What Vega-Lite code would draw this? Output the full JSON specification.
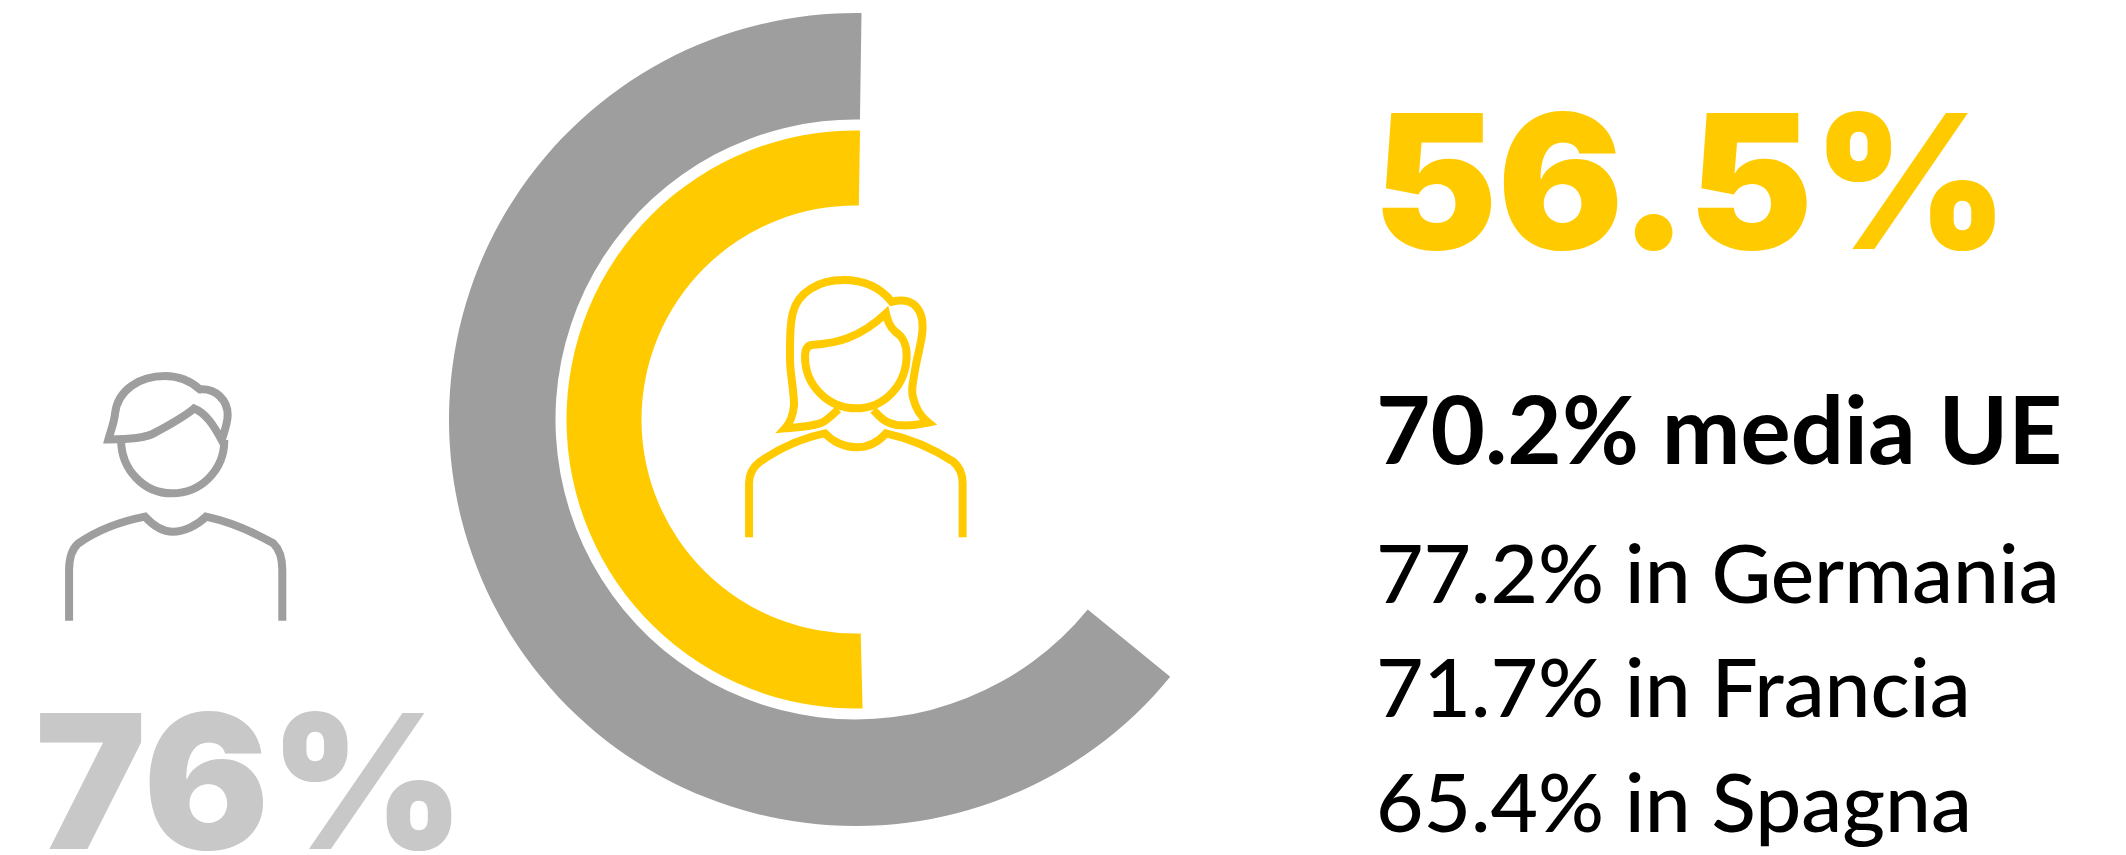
{
  "$schema": "https://vega.github.io/schema/vega-lite/v6.json",
  "width": 2126,
  "height": 855,
  "padding": 0,
  "autosize": {"type": "none"},
  "background": "white",
  "view": {"stroke": null},
  "resolve": {"scale": {"theta": "independent"}},
  "layer": [
    {
      "data": {"values": [{"gruppo": "Uomini", "quota": 76, "inizio": 0}]},
      "mark": {"type": "arc", "radius": 406.5, "radius2": 300, "fill": "#9e9e9e"},
      "encoding": {
        "x": {"datum": 855.5, "type": "quantitative", "scale": {"domain": [0, 2126], "nice": false, "zero": false}, "axis": null},
        "y": {"datum": 419.5, "type": "quantitative", "scale": {"domain": [0, 855], "reverse": true, "nice": false, "zero": false}, "axis": null},
        "theta": {"field": "inizio", "type": "quantitative", "stack": null, "scale": {"domain": [0, 76], "range": [0.0148, -4.027]}},
        "theta2": {"field": "quota"}
      }
    },
    {
      "data": {"values": [{"gruppo": "Donne", "quota": 56.5, "inizio": 0}]},
      "mark": {"type": "arc", "radius": 289, "radius2": 214, "fill": "#ffcb00"},
      "encoding": {
        "x": {"datum": 855.5, "type": "quantitative"},
        "y": {"datum": 419.5, "type": "quantitative"},
        "theta": {"field": "inizio", "type": "quantitative", "stack": null, "scale": {"domain": [0, 56.5], "range": [0.0157, -3.166]}},
        "theta2": {"field": "quota"}
      }
    },
    {
      "data": {"values": [{"icona": "Donna"}]},
      "mark": {
        "type": "point", "filled": false, "size": 0.444, "stroke": "#ffcb00", "strokeWidth": 8, "opacity": 1,
        "shape": "M-321 392V230C-321 200 -305 178 -288 165C-230 125 -170 95 -93 80C-70 105 -35 122 0 122C35 122 68 105 90 80C160 95 230 125 292 165C310 180 320 200 320 230V392M-133 -185C-60 -190 10 -205 90 -280C95 -260 100 -240 118 -225C140 -212 152 -185 152 -155C152 -65 85 5 0 5C-85 5 -153 -65 -153 -150C-153 -172 -145 -183 -133 -185ZM-53 8C-75 28 -90 45 -108 50C-140 60 -180 62 -213 65C-195 45 -188 20 -186 -5C-186 -50 -198 -100 -198 -140C-198 -190 -200 -240 -190 -280C-175 -345 -110 -380 -38 -380C25 -380 75 -355 107 -315C150 -325 180 -315 195 -275C210 -230 187 -170 178 -115C170 -70 165 -45 172 -25C180 10 195 30 217 48C185 55 150 58 122 55C90 50 75 35 52 10"
      },
      "encoding": {
        "x": {"datum": 856, "type": "quantitative"},
        "y": {"datum": 406.7, "type": "quantitative"}
      }
    },
    {
      "data": {"values": [{"icona": "Uomo"}]},
      "mark": {
        "type": "point", "filled": false, "size": 0.444, "stroke": "#9e9e9e", "strokeWidth": 8, "opacity": 1,
        "shape": "M-311 342V190C-311 150 -300 125 -283 110C-225 70 -160 45 -83 30C-60 55 -30 75 0 75C35 75 75 55 100 30C170 45 240 75 302 110C318 125 329 150 329 190V342M-193 -202C-130 -202 -80 -205 -48 -225C-15 -243 35 -270 64 -295C100 -282 125 -240 147 -200C155 -225 165 -250 165 -275C165 -320 130 -355 82 -352C50 -380 15 -392 -23 -392C-100 -392 -165 -350 -173 -280C-175 -255 -185 -230 -193 -202ZM-155 -202C-155 -110 -85 -40 -3 -40C85 -40 155 -110 155 -200"
      },
      "encoding": {
        "x": {"datum": 172.7, "type": "quantitative"},
        "y": {"datum": 506.7, "type": "quantitative"}
      }
    },
    {
      "data": {"values": [{"testo": "56.5%"}]},
      "mark": {"type": "text", "font": "Inter", "fontWeight": 900, "fontSize": 187, "align": "left", "baseline": "alphabetic", "fill": "#ffcb00"},
      "encoding": {
        "text": {"field": "testo"},
        "x": {"datum": 1373, "type": "quantitative"},
        "y": {"datum": 249, "type": "quantitative"}
      }
    },
    {
      "data": {"values": [{"testo": "76%"}]},
      "mark": {"type": "text", "font": "Inter", "fontWeight": 900, "fontSize": 187, "align": "left", "baseline": "alphabetic", "fill": "#c8c8c8"},
      "encoding": {
        "text": {"field": "testo"},
        "x": {"datum": 35, "type": "quantitative"},
        "y": {"datum": 849, "type": "quantitative"}
      }
    },
    {
      "data": {"values": [{"testo": "70.2% media UE"}]},
      "mark": {"type": "text", "font": "Lato", "fontWeight": 700, "fontSize": 94, "align": "left", "baseline": "alphabetic", "fill": "#000000"},
      "encoding": {
        "text": {"field": "testo"},
        "x": {"datum": 1376, "type": "quantitative"},
        "y": {"datum": 464, "type": "quantitative"}
      }
    },
    {
      "data": {"values": [{"testo": "77.2% in Germania"}]},
      "mark": {"type": "text", "font": "Lato", "fontWeight": 500, "fontSize": 82, "align": "left", "baseline": "alphabetic", "fill": "#000000"},
      "encoding": {
        "text": {"field": "testo"},
        "x": {"datum": 1376, "type": "quantitative"},
        "y": {"datum": 603, "type": "quantitative"}
      }
    },
    {
      "data": {"values": [{"testo": "71.7% in Francia"}]},
      "mark": {"type": "text", "font": "Lato", "fontWeight": 500, "fontSize": 82, "align": "left", "baseline": "alphabetic", "fill": "#000000"},
      "encoding": {
        "text": {"field": "testo"},
        "x": {"datum": 1376, "type": "quantitative"},
        "y": {"datum": 717, "type": "quantitative"}
      }
    },
    {
      "data": {"values": [{"testo": "65.4% in Spagna"}]},
      "mark": {"type": "text", "font": "Lato", "fontWeight": 500, "fontSize": 82, "align": "left", "baseline": "alphabetic", "fill": "#000000"},
      "encoding": {
        "text": {"field": "testo"},
        "x": {"datum": 1376, "type": "quantitative"},
        "y": {"datum": 832, "type": "quantitative"}
      }
    }
  ]
}
